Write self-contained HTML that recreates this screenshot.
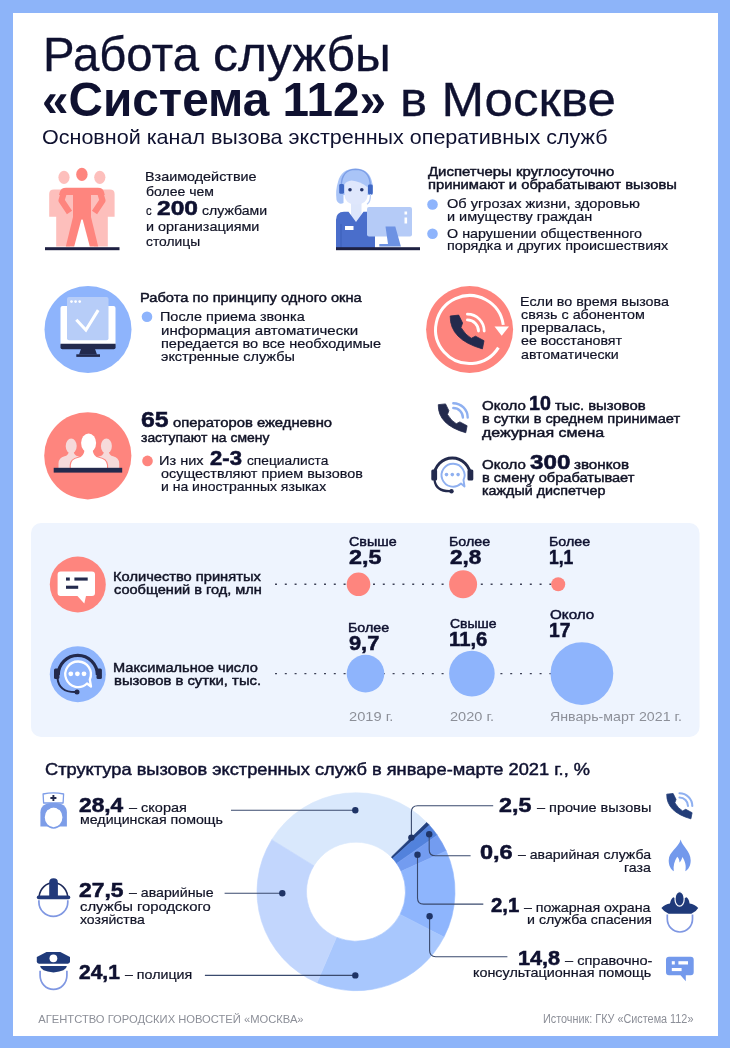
<!DOCTYPE html><html lang="ru"><head><meta charset="utf-8"><title>Работа службы «Система 112» в Москве</title><style>
html,body{margin:0;padding:0;}body{width:730px;height:1048px;position:relative;overflow:hidden;background:#8db4f9;font-family:"Liberation Sans", Arial, sans-serif;}
svg.bg{position:absolute;left:0;top:0;}
.t{position:absolute;white-space:nowrap;line-height:1;transform-origin:0 0;}
.t b{font-weight:700;}
.num{font-size:20.5px;color:#12143a;}
.mk{display:inline-block;width:0;height:0;}
</style></head><body>
<svg class="bg" width="730" height="1048" viewBox="0 0 730 1048">
<rect x="0" y="0" width="730" height="1048" fill="#8db4f9"/>
<rect x="13" y="13" width="705" height="1023" fill="#ffffff"/>
<g fill="#fdbfbc">
<ellipse cx="64" cy="177.3" rx="5.6" ry="6.6"/>
<ellipse cx="99.8" cy="177.3" rx="5.6" ry="6.6"/>
<path d="M49.2,216.7 L49.2,194 Q49.2,189.6 54,189.6 L80,189.6 L80,219 L73,219 L70,246.5 L56.2,246.5 L56.2,216.7 Z"/>
<path d="M114.6,216.7 L114.6,194 Q114.6,189.6 109.8,189.6 L84,189.6 L84,219 L91,219 L94,246.5 L107.8,246.5 L107.8,216.7 Z"/>
</g>
<g fill="#fe857e">
<ellipse cx="81.9" cy="174.4" rx="5.7" ry="6.6"/>
<path d="M66,187.7 L98,187.7 Q103,187.7 104,192 L104.8,195 L97,195 L91,195 L91,219.5 L73,219.5 L73,195 L59,195 L59.8,192 Q61,187.7 66,187.7 Z"/>
</g>
<g stroke="#fe857e" stroke-width="6.2" fill="none" stroke-linejoin="round">
<polyline points="64,192 61.5,200.5 69.5,212.5"/>
<polyline points="100,192 102.5,200.5 94.5,212.5"/>
</g>
<g fill="#fe857e">
<path d="M73,217 L82,217 L74.2,246.5 L65.8,246.5 Z"/>
<path d="M82,217 L91,217 L98.2,246.5 L89.8,246.5 Z"/>
</g>
<rect x="45" y="247.2" width="74.5" height="3" fill="#1e2142"/>
<g>
<path d="M336.5,200 Q335.3,190 338,182 Q341,169 355.5,168.6 Q370,169 372.5,184 L372.5,195 L343.5,195 L343.5,203 Q339,205.5 336.5,200 Z" fill="#a9c4f7"/>
<rect x="351" y="200" width="10.5" height="23" fill="#dde6fb"/>
<path d="M344.6,184.5 Q346.5,181 351.5,180.6 Q360,181.5 367.6,187.2 L367.6,196 Q367,203.5 357,204.6 L355,204.6 Q345.2,203.5 344.6,196 Z" fill="#dfe7fc"/>
<circle cx="350" cy="189.8" r="1.8" fill="#22336b"/><circle cx="361.8" cy="189.8" r="1.8" fill="#22336b"/>
<path d="M341.3,186 Q341.5,169.6 355.5,169.4 Q370,169.6 370.4,186" fill="none" stroke="#7c9ee6" stroke-width="1.4"/>
<rect x="339.2" y="184" width="4.8" height="9.8" rx="1.4" fill="#3f68c4"/>
<rect x="368" y="184.6" width="4.8" height="9.8" rx="1.4" fill="#3f68c4"/>
<path d="M370.4,194 Q370.8,202 367,204.3" fill="none" stroke="#b9cdf6" stroke-width="1.2"/>
<path d="M336,248 L336,220 Q336,212 344,211.8 L348.5,211.8 L356,222 L363.5,211.8 L368,211.8 Q375,212 375,220 L375,248 Z" fill="#4a6ecb"/>
<path d="M341,224 L341,248" stroke="#3b5fb8" stroke-width="1"/>
<rect x="345" y="226" width="8.5" height="4" fill="#ffffff"/>
<rect x="367" y="207" width="45" height="29.4" rx="2" fill="#b5cbf7"/>
<rect x="404.5" y="211.5" width="2.6" height="3" fill="#ffffff"/><rect x="404.5" y="217.5" width="2.6" height="6" fill="#ffffff"/>
<path d="M385.5,226.6 L395.3,226.6 L400.9,246.5 L379.3,246.5 L379.3,244 L388,244 Z" fill="#6d92e3"/>
<rect x="336" y="247.2" width="84" height="3" fill="#1e2142"/>
</g>
<circle cx="88" cy="329.5" r="43.5" fill="#8eb4fc"/>
<rect x="60.5" y="306" width="55" height="40" rx="2" fill="#ffffff"/>
<path d="M60.5,343.7 L115.6,343.7 L115.6,347.5 Q115.6,349.3 113.8,349.3 L62.3,349.3 Q60.5,349.3 60.5,347.5 Z" fill="#232a4d"/>
<path d="M81,349 L95,349 L97,354.5 L79,354.5 Z" fill="#232a4d"/>
<rect x="76.3" y="354.3" width="23.7" height="2.6" fill="#232a4d"/>
<rect x="67" y="297" width="41.5" height="43.3" rx="2" fill="#b7cdf8"/>
<circle cx="71.5" cy="301.6" r="1.35" fill="#fff"/><circle cx="75.6" cy="301.6" r="1.35" fill="#fff"/><circle cx="79.7" cy="301.6" r="1.35" fill="#fff"/>
<polyline points="76.3,319.7 85.9,330 98.2,310.1" fill="none" stroke="#fff" stroke-width="3"/>
<circle cx="469.6" cy="329.6" r="43.5" fill="#fe857e"/>
<path d="M498.43,347.62 A34,34 0 1 1 503.27,324.87" fill="none" stroke="#fff" stroke-width="3"/>
<path d="M494.5,326.4 L509,326.4 L501.7,335.8 Z" fill="#fff"/>
<path transform="translate(450.00,315.10) scale(1.0)" d="M0.2,0.9 L8.7,0 L12.6,7.9 L11,12.4 Q15.65,20.2 21.3,23.2 L25.5,21.1 L34,25.6 L32.4,33.8 Q-0.3,24.5 0.2,0.9 Z" fill="#232a4d" stroke="#232a4d" stroke-width="0.800" stroke-linejoin="round"/>
<path d="M467.4,319.9 A11.1,11.1 0 0 1 478.5,331" fill="none" stroke="#fff" stroke-width="2.8" stroke-linecap="round"/>
<path d="M467.4,314.2 A16.8,16.8 0 0 1 484.2,331" fill="none" stroke="#fff" stroke-width="2.8" stroke-linecap="round"/>
<circle cx="87.8" cy="455.8" r="43.6" fill="#fe857e"/>
<g fill="#f6dada">
<ellipse cx="71.2" cy="446" rx="5.5" ry="7.4"/>
<ellipse cx="106.4" cy="446" rx="5.5" ry="7.4"/>
<path d="M58.5,468 L58.5,463.5 Q58.7,457.5 64.5,456.3 Q68.5,455.5 69,451 L73.4,451 Q74,455.5 78,456.3 Q82,457 84,460 L84,468 Z"/>
<path d="M119.2,468 L119.2,463.5 Q119,457.5 113.1,456.3 Q109.1,455.5 108.6,451 L104.2,451 Q103.6,455.5 99.6,456.3 Q95.6,457 93.6,460 L93.6,468 Z"/>
</g>
<g fill="#fe857e" stroke="#fe857e" stroke-width="2.2" stroke-linejoin="round"><ellipse cx="88.6" cy="443" rx="7.5" ry="9.4"/><path d="M70.8,468.5 L70.8,465 Q71,459.3 78.5,457.8 Q83.6,457 84.6,450 L92.6,450 Q93.6,457 98.7,457.8 Q106.5,459.3 107,465 L107,468.5 Z"/></g>
<g fill="#ffffff"><ellipse cx="88.6" cy="443" rx="7.5" ry="9.4"/><path d="M70.8,468.5 L70.8,465 Q71,459.3 78.5,457.8 Q83.6,457 84.6,450 L92.6,450 Q93.6,457 98.7,457.8 Q106.5,459.3 107,465 L107,468.5 Z"/></g>
<rect x="53.7" y="467.8" width="68.5" height="4.8" fill="#232a4d"/>
<path transform="translate(438.10,403.90) scale(0.853)" d="M0.2,0.9 L8.7,0 L12.6,7.9 L11,12.4 Q15.65,20.2 21.3,23.2 L25.5,21.1 L34,25.6 L32.4,33.8 Q-0.3,24.5 0.2,0.9 Z" fill="#232a4d" stroke="#232a4d" stroke-width="0.938" stroke-linejoin="round"/>
<path d="M453.3,408 A9.6,9.6 0 0 1 462.9,417.6" fill="none" stroke="#8fb0f0" stroke-width="2.4" stroke-linecap="round"/>
<path d="M453.3,403.2 A14.4,14.4 0 0 1 467.7,417.6" fill="none" stroke="#8fb0f0" stroke-width="2.4" stroke-linecap="round"/>
<path d="M434.3,476 A18,18 0 0 1 470.3,476" fill="none" stroke="#232a4d" stroke-width="3"/>
<rect x="431.3" y="469.5" width="5.8" height="11" rx="1.5" fill="#232a4d"/>
<rect x="467.5" y="469.5" width="5.8" height="11" rx="1.5" fill="#232a4d"/>
<path d="M434.5,480 Q436,491.5 450,491.2" fill="none" stroke="#232a4d" stroke-width="2.2"/>
<circle cx="451.5" cy="491.2" r="2.2" fill="#232a4d"/>
<path d="M461,483.5 A11.5,11.5 0 1 1 463.5,480 L464.5,486.5 Z" fill="none" stroke="#8fb0f0" stroke-width="1.9" stroke-linejoin="round"/>
<circle cx="446.5" cy="474.6" r="1.8" fill="#8fb0f0"/><circle cx="452.3" cy="474.6" r="1.8" fill="#8fb0f0"/><circle cx="458.1" cy="474.6" r="1.8" fill="#8fb0f0"/>
<circle cx="432.5" cy="204.5" r="5.3" fill="#8eb4fc"/>
<circle cx="432.5" cy="233.8" r="5.3" fill="#8eb4fc"/>
<circle cx="147" cy="316.8" r="5.3" fill="#8eb4fc"/>
<circle cx="147.5" cy="460.9" r="5.3" fill="#fe857e"/>
<rect x="31" y="523" width="668.5" height="214" rx="10" fill="#eef4fe"/>
<circle cx="77.8" cy="584.5" r="28" fill="#fe857e"/>
<path d="M60.6,571.4 L92,571.4 Q95,571.4 95,574.4 L95,592.9 Q95,595.9 92,595.9 L86,595.9 L84.3,603.5 L77.4,595.9 L60.6,595.9 Q57.6,595.9 57.6,592.9 L57.6,574.4 Q57.6,571.4 60.6,571.4 Z" fill="#fff"/>
<rect x="66" y="577.5" width="3.8" height="3.1" fill="#232a4d"/><rect x="74.4" y="577.5" width="13.3" height="3.1" fill="#232a4d"/><rect x="66" y="585.7" width="12.2" height="3.1" fill="#232a4d"/>
<circle cx="77.8" cy="674.2" r="28" fill="#8eb4fc"/>
<path d="M58.2,675 A19.6,19.6 0 0 1 97.4,675" fill="none" stroke="#232a4d" stroke-width="3.2"/>
<rect x="54" y="668.4" width="5.4" height="10.5" rx="1.5" fill="#232a4d"/><rect x="96.5" y="668.4" width="5.4" height="10.5" rx="1.5" fill="#232a4d"/>
<path d="M57.5,678.5 Q59,692 75,692.1" fill="none" stroke="#232a4d" stroke-width="2"/>
<circle cx="77" cy="692.1" r="2.5" fill="#232a4d"/>
<path d="M87,683.5 A12.8,12.8 0 1 1 89.8,679.5 L91,686.5 Z" fill="none" stroke="#fff" stroke-width="2.3" stroke-linejoin="round"/>
<circle cx="70.8" cy="673.8" r="2.4" fill="#fff"/><circle cx="77.4" cy="673.8" r="2.4" fill="#fff"/><circle cx="84" cy="673.8" r="2.4" fill="#fff"/>
<line x1="275" y1="584.3" x2="560" y2="584.3" stroke="#3e4258" stroke-width="1.4" stroke-dasharray="2 7.8"/>
<line x1="275" y1="673.6" x2="560" y2="673.6" stroke="#3e4258" stroke-width="1.4" stroke-dasharray="2 7.8"/>
<circle cx="358.5" cy="584.3" r="11.8" fill="#fe857e"/>
<circle cx="463.1" cy="584.3" r="14" fill="#fe857e"/>
<circle cx="558.2" cy="584.3" r="7" fill="#fe857e"/>
<circle cx="365.5" cy="673.6" r="18.8" fill="#8eb4fc"/>
<circle cx="471.9" cy="673.6" r="22.8" fill="#8eb4fc"/>
<circle cx="581.9" cy="673.6" r="31.4" fill="#8eb4fc"/>
<path d="M271.77,839.68 A99,99 0 0 1 426.73,822.43 L391.37,857.07 A49.5,49.5 0 0 0 313.88,865.69 Z" fill="#d9e8fc" stroke="#d9e8fc" stroke-width="0.6" stroke-linejoin="round"/>
<path d="M426.73,822.43 A99,99 0 0 1 429.34,825.20 L392.67,858.45 A49.5,49.5 0 0 0 391.37,857.07 Z" fill="#22407e" stroke="#22407e" stroke-width="0.6" stroke-linejoin="round"/>
<path d="M429.34,825.20 A99,99 0 0 1 437.29,835.20 L396.65,863.45 A49.5,49.5 0 0 0 392.67,858.45 Z" fill="#5282dc" stroke="#5282dc" stroke-width="0.6" stroke-linejoin="round"/>
<path d="M437.29,835.20 A99,99 0 0 1 446.23,850.96 L401.11,871.33 A49.5,49.5 0 0 0 396.65,863.45 Z" fill="#739cf0" stroke="#739cf0" stroke-width="0.6" stroke-linejoin="round"/>
<path d="M446.23,850.96 A99,99 0 0 1 443.97,937.11 L399.99,914.40 A49.5,49.5 0 0 0 401.11,871.33 Z" fill="#8eb5fd" stroke="#8eb5fd" stroke-width="0.6" stroke-linejoin="round"/>
<path d="M443.97,937.11 A99,99 0 0 1 317.00,982.69 L336.50,937.20 A49.5,49.5 0 0 0 399.99,914.40 Z" fill="#a8c7fd" stroke="#a8c7fd" stroke-width="0.6" stroke-linejoin="round"/>
<path d="M317.00,982.69 A99,99 0 0 1 271.77,839.68 L313.88,865.69 A49.5,49.5 0 0 0 336.50,937.20 Z" fill="#c2d6fd" stroke="#c2d6fd" stroke-width="0.6" stroke-linejoin="round"/>
<path d="M231,810.2 L355.3,810.2" fill="none" stroke="#3a4a6e" stroke-width="1.1"/>
<path d="M224.6,893.3 L282.3,893.3" fill="none" stroke="#3a4a6e" stroke-width="1.1"/>
<path d="M204.9,975.4 L355.3,975.4" fill="none" stroke="#3a4a6e" stroke-width="1.1"/>
<path d="M411.4,837.6 L411.4,812 Q411.4,805.8 417.6,805.8 L493.2,805.8" fill="none" stroke="#3a4a6e" stroke-width="1.1"/>
<path d="M429.2,834.3 L429.2,849.8 Q429.2,855.8 435.2,855.8 L470.6,855.8" fill="none" stroke="#3a4a6e" stroke-width="1.1"/>
<path d="M417.5,854.7 L417.5,898 Q417.5,904.1 423.6,904.1 L483.3,904.1" fill="none" stroke="#3a4a6e" stroke-width="1.1"/>
<path d="M429.6,916.2 L429.6,950.6 Q429.6,956.7 435.7,956.7 L507.4,956.7" fill="none" stroke="#3a4a6e" stroke-width="1.1"/>
<circle cx="355.3" cy="810.2" r="3.2" fill="#1f3466"/>
<circle cx="282.3" cy="893.3" r="3.2" fill="#1f3466"/>
<circle cx="355.3" cy="975.4" r="3.2" fill="#1f3466"/>
<circle cx="411.4" cy="837.6" r="3.2" fill="#1f3466"/>
<circle cx="429.2" cy="834.3" r="3.2" fill="#1f3466"/>
<circle cx="417.5" cy="854.7" r="3.2" fill="#1f3466"/>
<circle cx="429.6" cy="916.2" r="3.2" fill="#1f3466"/>
<path d="M40.4,826.6 L40.4,812.5 Q40.4,803 53.6,802.8 Q66.9,803 66.9,812.5 L66.9,826.6 Z" fill="#7d9de8"/>
<ellipse cx="53.6" cy="817.3" rx="9.6" ry="10.6" fill="#fff" stroke="#7d9de8" stroke-width="1.5"/>
<path d="M43.6,812 Q44.5,806 53.6,805.6 Q62.7,806 63.7,812 L61.5,808.8 L58.2,809.6 L56,807.6 L53.6,807.3 L51.2,807.6 L49,809.6 L45.8,808.8 Z" fill="#7d9de8"/>
<path d="M43.6,803 L43.1,794 Q53.4,791.6 63.6,794 L63.1,803 Z" fill="#fff" stroke="#7d9de8" stroke-width="1.3" stroke-linejoin="round"/>
<path d="M53.4,795 L53.4,801 M50.4,798 L56.4,798" stroke="#232a4d" stroke-width="1.9"/>
<path d="M38.9,900.3 L38.9,902 A14.45,14.45 0 0 0 67.8,902 L67.8,900.3" fill="none" stroke="#7f97e2" stroke-width="1.7"/>
<path d="M39.2,896 A14.3,15 0 0 1 67.6,896" fill="none" stroke="#1e2a5a" stroke-width="1.6"/>
<path d="M49.2,896 L49.2,882.5 Q49.2,878.3 53.55,878.3 Q57.9,878.3 57.9,882.5 L57.9,896 Z" fill="#22397a"/>
<rect x="36.8" y="895.6" width="33.5" height="3.6" rx="1.8" fill="#22397a"/>
<path d="M40.1,970.7 L40.1,975.5 A13.4,13.9 0 0 0 66.9,975.5 L66.9,970.7" fill="none" stroke="#7f97e2" stroke-width="1.7"/>
<path d="M46.5,952 L60.3,952 L70,957.1 L70,961.5 Q70,963.6 67.8,963.8 L39,963.8 Q36.8,963.6 36.8,961.5 L36.8,957.1 Z" fill="#1f3a7a"/>
<circle cx="53.4" cy="958.3" r="3.9" fill="#fff"/>
<path d="M40.1,965.9 L66.9,965.9 Q66.5,971 53.5,972.4 Q40.5,971 40.1,965.9 Z" fill="#1f3a7a"/>
<path transform="translate(666.60,793.50) scale(0.75)" d="M0.2,0.9 L8.7,0 L12.6,7.9 L11,12.4 Q15.65,20.2 21.3,23.2 L25.5,21.1 L34,25.6 L32.4,33.8 Q-0.3,24.5 0.2,0.9 Z" fill="#233d78" stroke="#233d78" stroke-width="1.067" stroke-linejoin="round"/>
<path d="M679.5,797.5 A8.5,8.5 0 0 1 688,806" fill="none" stroke="#8fb0f0" stroke-width="2.1" stroke-linecap="round"/>
<path d="M679.5,793.2 A12.8,12.8 0 0 1 692.3,806" fill="none" stroke="#8fb0f0" stroke-width="2.1" stroke-linecap="round"/>
<path d="M680.7,839.5 C681.5,846 690.7,850.5 690.7,860.5 C690.7,865.5 688.5,869.5 685.3,871.2 C686.5,866 685.2,861 682.3,857 C681.8,859.5 680.8,861.5 679.5,862.5 C679.5,860 678.5,858 677.2,856.8 C674.5,861 673,866 673.8,871.2 C670.8,869.5 668.7,865.5 668.7,860.5 C668.7,851.5 678.5,848 680.7,839.5 Z" fill="#7399ec"/>
<path d="M667.3,914.6 L667.3,919 A12.6,13 0 0 0 692.5,919 L692.5,914.6" fill="none" stroke="#7f97e2" stroke-width="1.7"/>
<path d="M661.4,908 Q665,904.2 670,903.5 Q671,898.6 673.3,897.2 Q679.6,901.5 686.6,897.2 Q688.8,898.6 689.6,903.5 Q694.6,904.2 698.2,908 Q696,912 691.3,913.7 L668.6,913.7 Q664,912 661.4,908 Z" fill="#1f3a7a"/>
<ellipse cx="679.6" cy="898.9" rx="4.6" ry="7.3" fill="#1f3a7a" stroke="#fff" stroke-width="1.2"/>
<path d="M669,956.8 L690.7,956.8 Q693.7,956.8 693.7,959.8 L693.7,972.2 Q693.7,975.2 690.7,975.2 L685.8,975.2 L685.8,981.2 L680.5,975.2 L669,975.2 Q666,975.2 666,972.2 L666,959.8 Q666,956.8 669,956.8 Z" fill="#7399ec"/>
<rect x="671.8" y="961.2" width="3" height="3.3" fill="#fff"/><rect x="678.4" y="961.2" width="9.6" height="3.3" fill="#fff"/><rect x="671.8" y="968" width="9.8" height="3.1" fill="#fff"/>
</svg>
<div class="t" id="t0" style="left:43.01px;top:30.80px;font-size:47.4px;color:#0f1130;-webkit-text-stroke:0.3px currentColor;transform:scaleX(0.9978);">Работа</div>
<div class="t" id="t1" style="left:212.90px;top:30.80px;font-size:47.4px;color:#0f1130;-webkit-text-stroke:0.3px currentColor;transform:scaleX(1.0521);">службы</div>
<div class="t" id="t2" style="left:42.41px;top:76.20px;font-size:48px;color:#0f1130;font-weight:700;transform:scaleX(0.9939);">«Система 112»</div>
<div class="t" id="t3" style="left:400.10px;top:76.20px;font-size:48px;color:#0f1130;-webkit-text-stroke:0.3px currentColor;transform:scaleX(1.0655);">в Москве</div>
<div class="t" id="t4" style="left:42.28px;top:126.20px;font-size:21px;color:#0f1130;transform:scaleX(1.0250);">Основной канал вызова экстренных оперативных служб</div>
<div class="t" id="t5" style="left:144.69px;top:169.60px;font-size:13px;color:#111326;-webkit-text-stroke:0.2px currentColor;transform:scaleX(1.1052);">Взаимодействие</div>
<div class="t" id="t6" style="left:145.80px;top:185.20px;font-size:13px;color:#111326;-webkit-text-stroke:0.2px currentColor;transform:scaleX(1.0783);">более чем</div>
<div class="t" id="t7" style="left:145.80px;top:204.10px;font-size:13px;color:#111326;-webkit-text-stroke:0.2px currentColor;transform:scaleX(0.8714);">с</div>
<div class="t" id="t8" style="left:156.90px;top:198.10px;font-size:20.8px;color:#0f1130;font-weight:700;transform:scaleX(1.1805);-webkit-text-stroke:0.55px currentColor;">200</div>
<div class="t" id="t9" style="left:201.80px;top:204.10px;font-size:13px;color:#111326;-webkit-text-stroke:0.2px currentColor;transform:scaleX(1.0819);">службами</div>
<div class="t" id="t10" style="left:145.80px;top:220.40px;font-size:13px;color:#111326;-webkit-text-stroke:0.2px currentColor;transform:scaleX(1.1051);">и организациями</div>
<div class="t" id="t11" style="left:145.80px;top:235.40px;font-size:13px;color:#111326;-webkit-text-stroke:0.2px currentColor;transform:scaleX(1.0624);">столицы</div>
<div class="t" id="t12" style="left:427.70px;top:164.70px;font-size:13px;color:#111326;-webkit-text-stroke:0.45px currentColor;transform:scaleX(1.1492);">Диспетчеры круглосуточно</div>
<div class="t" id="t13" style="left:427.70px;top:177.80px;font-size:13px;color:#111326;-webkit-text-stroke:0.45px currentColor;transform:scaleX(1.1358);">принимают и обрабатывают вызовы</div>
<div class="t" id="t14" style="left:446.90px;top:197.00px;font-size:13px;color:#111326;-webkit-text-stroke:0.2px currentColor;transform:scaleX(1.1222);">Об угрозах жизни, здоровью</div>
<div class="t" id="t15" style="left:446.90px;top:210.00px;font-size:13px;color:#111326;-webkit-text-stroke:0.2px currentColor;transform:scaleX(1.1127);">и имуществу граждан</div>
<div class="t" id="t16" style="left:446.90px;top:226.70px;font-size:13px;color:#111326;-webkit-text-stroke:0.2px currentColor;transform:scaleX(1.1028);">О нарушении общественного</div>
<div class="t" id="t17" style="left:446.90px;top:239.10px;font-size:13px;color:#111326;-webkit-text-stroke:0.2px currentColor;transform:scaleX(1.1055);">порядка и других происшествиях</div>
<div class="t" id="t18" style="left:140.07px;top:291.10px;font-size:13px;color:#111326;-webkit-text-stroke:0.45px currentColor;transform:scaleX(1.1284);">Работа по принципу одного окна</div>
<div class="t" id="t19" style="left:159.59px;top:310.00px;font-size:13px;color:#111326;-webkit-text-stroke:0.2px currentColor;transform:scaleX(1.1103);">После приема звонка</div>
<div class="t" id="t20" style="left:160.70px;top:323.70px;font-size:13px;color:#111326;-webkit-text-stroke:0.2px currentColor;transform:scaleX(1.1562);">информация автоматически</div>
<div class="t" id="t21" style="left:160.70px;top:337.40px;font-size:13px;color:#111326;-webkit-text-stroke:0.2px currentColor;transform:scaleX(1.1169);">передается во все необходимые</div>
<div class="t" id="t22" style="left:160.70px;top:350.00px;font-size:13px;color:#111326;-webkit-text-stroke:0.2px currentColor;transform:scaleX(1.1129);">экстренные службы</div>
<div class="t" id="t23" style="left:520.00px;top:294.50px;font-size:13px;color:#111326;-webkit-text-stroke:0.2px currentColor;transform:scaleX(1.1007);">Если во время вызова</div>
<div class="t" id="t24" style="left:521.10px;top:307.80px;font-size:13px;color:#111326;-webkit-text-stroke:0.2px currentColor;transform:scaleX(1.1042);">связь с абонентом</div>
<div class="t" id="t25" style="left:521.10px;top:320.80px;font-size:13px;color:#111326;-webkit-text-stroke:0.2px currentColor;transform:scaleX(1.1353);">прервалась,</div>
<div class="t" id="t26" style="left:521.10px;top:334.40px;font-size:13px;color:#111326;-webkit-text-stroke:0.2px currentColor;transform:scaleX(1.0952);">ее восстановят</div>
<div class="t" id="t27" style="left:521.10px;top:347.50px;font-size:13px;color:#111326;-webkit-text-stroke:0.2px currentColor;transform:scaleX(1.0920);">автоматически</div>
<div class="t" id="t28" style="left:140.90px;top:409.40px;font-size:22.5px;color:#0f1130;font-weight:700;transform:scaleX(1.1012);-webkit-text-stroke:0.55px currentColor;">65</div>
<div class="t" id="t29" style="left:172.80px;top:416.40px;font-size:13px;color:#111326;-webkit-text-stroke:0.45px currentColor;transform:scaleX(1.1383);">операторов ежедневно</div>
<div class="t" id="t30" style="left:140.90px;top:430.80px;font-size:13px;color:#111326;-webkit-text-stroke:0.45px currentColor;transform:scaleX(1.0700);">заступают на смену</div>
<div class="t" id="t31" style="left:159.48px;top:453.80px;font-size:13px;color:#111326;-webkit-text-stroke:0.2px currentColor;transform:scaleX(1.1204);">Из них</div>
<div class="t" id="t32" style="left:210.00px;top:447.80px;font-size:20px;color:#0f1130;font-weight:700;transform:scaleX(1.1048);-webkit-text-stroke:0.55px currentColor;">2-3</div>
<div class="t" id="t33" style="left:246.80px;top:453.80px;font-size:13px;color:#111326;-webkit-text-stroke:0.2px currentColor;transform:scaleX(1.0557);">специалиста</div>
<div class="t" id="t34" style="left:160.60px;top:467.00px;font-size:13px;color:#111326;-webkit-text-stroke:0.2px currentColor;transform:scaleX(1.1073);">осуществляют прием вызовов</div>
<div class="t" id="t35" style="left:160.60px;top:480.10px;font-size:13px;color:#111326;-webkit-text-stroke:0.2px currentColor;transform:scaleX(1.0771);">и на иностранных языках</div>
<div class="t" id="t36" style="left:481.50px;top:398.60px;font-size:13px;color:#111326;-webkit-text-stroke:0.45px currentColor;transform:scaleX(1.1587);">Около</div>
<div class="t" id="t37" style="left:528.53px;top:392.60px;font-size:20.3px;color:#0f1130;font-weight:700;transform:scaleX(0.9679);-webkit-text-stroke:0.55px currentColor;">10</div>
<div class="t" id="t38" style="left:555.10px;top:398.60px;font-size:13px;color:#111326;-webkit-text-stroke:0.45px currentColor;transform:scaleX(1.1436);">тыс. вызовов</div>
<div class="t" id="t39" style="left:481.50px;top:412.30px;font-size:13px;color:#111326;-webkit-text-stroke:0.45px currentColor;transform:scaleX(1.1216);">в сутки в среднем принимает</div>
<div class="t" id="t40" style="left:481.50px;top:425.50px;font-size:13px;color:#111326;-webkit-text-stroke:0.45px currentColor;transform:scaleX(1.2309);">дежурная смена</div>
<div class="t" id="t41" style="left:481.50px;top:458.00px;font-size:13px;color:#111326;-webkit-text-stroke:0.45px currentColor;transform:scaleX(1.1587);">Около</div>
<div class="t" id="t42" style="left:529.50px;top:452.00px;font-size:20.6px;color:#0f1130;font-weight:700;transform:scaleX(1.1733);-webkit-text-stroke:0.55px currentColor;">300</div>
<div class="t" id="t43" style="left:573.70px;top:458.00px;font-size:13px;color:#111326;-webkit-text-stroke:0.45px currentColor;transform:scaleX(1.1673);">звонков</div>
<div class="t" id="t44" style="left:481.50px;top:470.90px;font-size:13px;color:#111326;-webkit-text-stroke:0.45px currentColor;transform:scaleX(1.1230);">в смену обрабатывает</div>
<div class="t" id="t45" style="left:481.50px;top:484.20px;font-size:13px;color:#111326;-webkit-text-stroke:0.45px currentColor;transform:scaleX(1.1006);">каждый диспетчер</div>
<div class="t" id="t46" style="left:113.27px;top:570.00px;font-size:13px;color:#111326;-webkit-text-stroke:0.45px currentColor;transform:scaleX(1.1281);">Количество принятых</div>
<div class="t" id="t47" style="left:114.40px;top:582.80px;font-size:13px;color:#111326;-webkit-text-stroke:0.45px currentColor;transform:scaleX(1.1190);">сообщений в год, млн</div>
<div class="t" id="t48" style="left:113.28px;top:661.10px;font-size:13px;color:#111326;-webkit-text-stroke:0.45px currentColor;transform:scaleX(1.1224);">Максимальное число</div>
<div class="t" id="t49" style="left:114.40px;top:674.30px;font-size:13px;color:#111326;-webkit-text-stroke:0.45px currentColor;transform:scaleX(1.1415);">вызовов в сутки, тыс.</div>
<div class="t" id="t50" style="left:348.90px;top:535.80px;font-size:12.9px;color:#0f1130;-webkit-text-stroke:0.45px currentColor;transform:scaleX(1.1083);">Свыше</div>
<div class="t" id="t51" style="left:348.90px;top:547.30px;font-size:20.3px;color:#0f1130;font-weight:700;transform:scaleX(1.1496);-webkit-text-stroke:0.55px currentColor;">2,5</div>
<div class="t" id="t52" style="left:448.59px;top:535.80px;font-size:12.9px;color:#0f1130;-webkit-text-stroke:0.45px currentColor;transform:scaleX(1.1068);">Более</div>
<div class="t" id="t53" style="left:449.70px;top:547.30px;font-size:20.3px;color:#0f1130;font-weight:700;transform:scaleX(1.1102);-webkit-text-stroke:0.55px currentColor;">2,8</div>
<div class="t" id="t54" style="left:548.99px;top:535.80px;font-size:12.9px;color:#0f1130;-webkit-text-stroke:0.45px currentColor;transform:scaleX(1.1068);">Более</div>
<div class="t" id="t55" style="left:549.24px;top:547.30px;font-size:20.3px;color:#0f1130;font-weight:700;transform:scaleX(0.8617);-webkit-text-stroke:0.55px currentColor;">1,1</div>
<div class="t" id="t56" style="left:348.29px;top:621.60px;font-size:12.9px;color:#0f1130;-webkit-text-stroke:0.45px currentColor;transform:scaleX(1.1068);">Более</div>
<div class="t" id="t57" style="left:349.40px;top:632.90px;font-size:20.3px;color:#0f1130;font-weight:700;transform:scaleX(1.0744);-webkit-text-stroke:0.55px currentColor;">9,7</div>
<div class="t" id="t58" style="left:449.70px;top:617.70px;font-size:12.9px;color:#0f1130;-webkit-text-stroke:0.45px currentColor;transform:scaleX(1.0826);">Свыше</div>
<div class="t" id="t59" style="left:448.70px;top:628.70px;font-size:20.3px;color:#0f1130;font-weight:700;transform:scaleX(0.9978);-webkit-text-stroke:0.55px currentColor;">11,6</div>
<div class="t" id="t60" style="left:549.50px;top:608.80px;font-size:12.9px;color:#0f1130;-webkit-text-stroke:0.45px currentColor;transform:scaleX(1.1798);">Около</div>
<div class="t" id="t61" style="left:548.55px;top:620.00px;font-size:20.3px;color:#0f1130;font-weight:700;transform:scaleX(0.9491);-webkit-text-stroke:0.55px currentColor;">17</div>
<div class="t" id="t62" style="left:349.30px;top:709.60px;font-size:13px;color:#8c8f98;transform:scaleX(1.1292);">2019 г.</div>
<div class="t" id="t63" style="left:449.60px;top:709.60px;font-size:13px;color:#8c8f98;transform:scaleX(1.1214);">2020 г.</div>
<div class="t" id="t64" style="left:549.50px;top:709.60px;font-size:13px;color:#8c8f98;transform:scaleX(1.0909);">Январь-март 2021 г.</div>
<div class="t" id="t65" style="left:44.90px;top:760.50px;font-size:16.4px;color:#0f1130;-webkit-text-stroke:0.45px currentColor;transform:scaleX(1.1134);">Структура вызовов экстренных служб в январе-марте 2021 г., %</div>
<div class="t" id="t66" style="left:79.40px;top:794.60px;font-size:20.5px;color:#0f1130;font-weight:700;transform:scaleX(1.1085);-webkit-text-stroke:0.55px currentColor;">28,4</div>
<div class="t" id="t67" style="left:129.40px;top:800.60px;font-size:13px;color:#111326;-webkit-text-stroke:0.2px currentColor;transform:scaleX(1.1144);">– скорая</div>
<div class="t" id="t68" style="left:79.70px;top:813.00px;font-size:13px;color:#111326;-webkit-text-stroke:0.2px currentColor;transform:scaleX(1.0921);">медицинская помощь</div>
<div class="t" id="t69" style="left:79.40px;top:880.10px;font-size:20.5px;color:#0f1130;font-weight:700;transform:scaleX(1.1138);-webkit-text-stroke:0.55px currentColor;">27,5</div>
<div class="t" id="t70" style="left:128.90px;top:886.10px;font-size:13px;color:#111326;-webkit-text-stroke:0.2px currentColor;transform:scaleX(1.0899);">– аварийные</div>
<div class="t" id="t71" style="left:79.70px;top:900.10px;font-size:13px;color:#111326;-webkit-text-stroke:0.2px currentColor;transform:scaleX(1.1403);">службы городского</div>
<div class="t" id="t72" style="left:79.70px;top:912.60px;font-size:13px;color:#111326;-webkit-text-stroke:0.2px currentColor;transform:scaleX(1.0784);">хозяйства</div>
<div class="t" id="t73" style="left:79.40px;top:962.10px;font-size:20.5px;color:#0f1130;font-weight:700;transform:scaleX(1.0227);-webkit-text-stroke:0.55px currentColor;">24,1</div>
<div class="t" id="t74" style="left:124.90px;top:968.10px;font-size:13px;color:#111326;-webkit-text-stroke:0.2px currentColor;transform:scaleX(1.0948);">– полиция</div>
<div class="t" id="t75" style="left:498.90px;top:795.30px;font-size:20.5px;color:#0f1130;font-weight:700;transform:scaleX(1.1353);-webkit-text-stroke:0.55px currentColor;">2,5</div>
<div class="t" id="t76" style="left:537.40px;top:801.30px;font-size:13px;color:#111326;-webkit-text-stroke:0.2px currentColor;transform:scaleX(1.1171);">– прочие вызовы</div>
<div class="t" id="t77" style="left:479.90px;top:842.00px;font-size:20.5px;color:#0f1130;font-weight:700;transform:scaleX(1.1460);-webkit-text-stroke:0.55px currentColor;">0,6</div>
<div class="t" id="t78" style="left:517.70px;top:848.00px;font-size:13px;color:#111326;-webkit-text-stroke:0.2px currentColor;transform:scaleX(1.0825);">– аварийная служба</div>
<div class="t" id="t79" style="left:623.80px;top:860.60px;font-size:13px;color:#111326;-webkit-text-stroke:0.2px currentColor;transform:scaleX(1.0861);">газа</div>
<div class="t" id="t80" style="left:491.40px;top:895.20px;font-size:20.5px;color:#0f1130;font-weight:700;transform:scaleX(0.9929);-webkit-text-stroke:0.55px currentColor;">2,1</div>
<div class="t" id="t81" style="left:524.20px;top:901.20px;font-size:13px;color:#111326;-webkit-text-stroke:0.2px currentColor;transform:scaleX(1.0935);">– пожарная охрана</div>
<div class="t" id="t82" style="left:526.50px;top:913.40px;font-size:13px;color:#111326;-webkit-text-stroke:0.2px currentColor;transform:scaleX(1.0928);">и служба спасения</div>
<div class="t" id="t83" style="left:517.64px;top:947.80px;font-size:20.5px;color:#0f1130;font-weight:700;transform:scaleX(1.0570);-webkit-text-stroke:0.55px currentColor;">14,8</div>
<div class="t" id="t84" style="left:565.30px;top:953.80px;font-size:13px;color:#111326;-webkit-text-stroke:0.2px currentColor;transform:scaleX(1.1205);">– справочно-</div>
<div class="t" id="t85" style="left:473.20px;top:966.40px;font-size:13px;color:#111326;-webkit-text-stroke:0.2px currentColor;transform:scaleX(1.1049);">консультационная помощь</div>
<div class="t" id="t86" style="left:38.30px;top:1013.90px;font-size:11.2px;color:#8c8f98;">АГЕНТСТВО ГОРОДСКИХ НОВОСТЕЙ «МОСКВА»</div>
<div class="t" id="t87" style="left:543.30px;top:1013.00px;font-size:12px;color:#8c8f98;transform:scaleX(0.9027);">Источник: ГКУ «Система 112»</div>
</body></html>
